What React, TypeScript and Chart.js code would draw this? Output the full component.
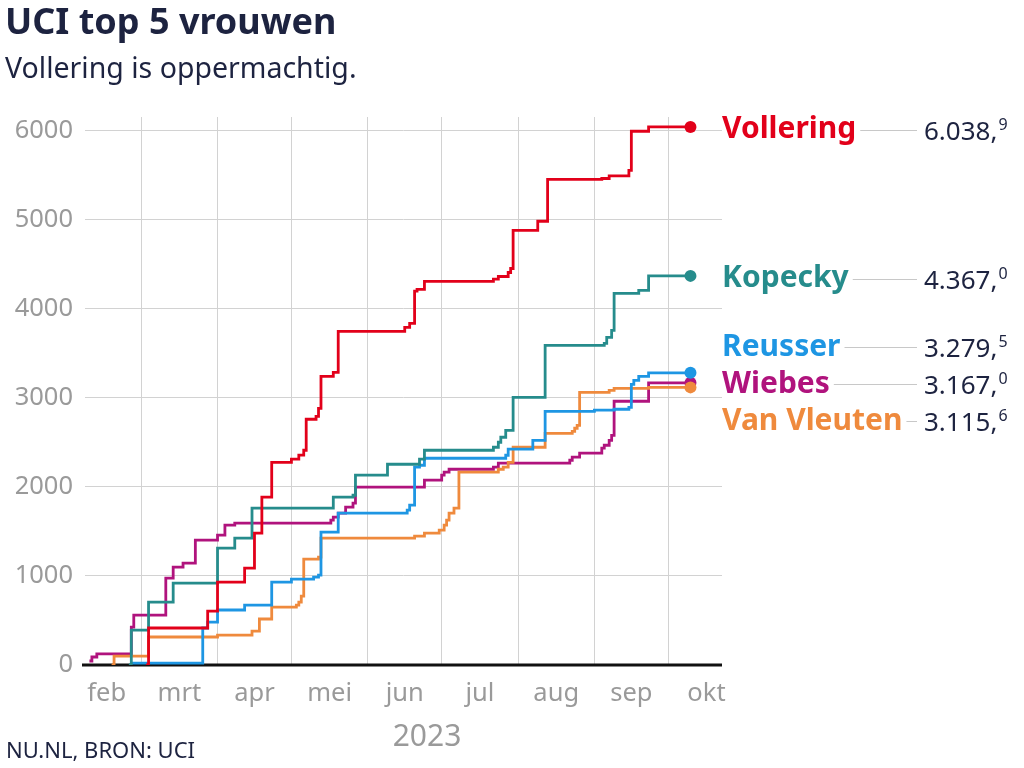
import React, { useEffect, useRef } from 'react';
import { Chart, registerables } from 'chart.js';

Chart.register(...registerables);

const FONT = '"Noto Sans", "Open Sans", sans-serif';
const NAVY = '#1d2340';
const GRAY = '#9a9a9a';
const GRID = '#d2d2d2';

const TITLE = 'UCI top 5 vrouwen';
const SUBTITLE = 'Vollering is oppermachtig.';
const SOURCE = 'NU.NL, BRON: UCI';
const YEAR_LABEL = '2023';

// x axis: month boundaries (gridlines) and month names (centred in the month)
const monthStarts = ['02-01', '03-01', '04-01', '05-01', '06-01', '07-01', '08-01', '09-01', '10-01', '11-01'];
const monthLabels = ['feb', 'mrt', 'apr', 'mei', 'jun', 'jul', 'aug', 'sep', 'okt'];
const xRange = ['02-06', '10-23'];
const yTicks = [0, 1000, 2000, 3000, 4000, 5000, 6000];
const yMax = 6150;

const riders = ['Vollering', 'Kopecky', 'Reusser', 'Wiebes', 'Van Vleuten'];
const riderColors = ['#e2001a', '#268c8c', '#1e96e3', '#b0137d', '#ef8a3d'];
const totals = [6038.9, 4367.0, 3279.5, 3167.0, 3115.6];
const endDate = '10-10';

const vollDates = ['03-03', '03-04', '03-28', '04-01', '04-12', '04-16', '04-19', '04-23', '05-01', '05-04', '05-06', '05-07', '05-11', '05-12', '05-13', '05-18', '05-20', '06-16', '06-18', '06-20', '06-21', '06-24', '07-22', '07-24', '07-28', '07-29', '07-30', '08-09', '08-13', '09-04', '09-07', '09-15', '09-16', '09-23'];
const vollPoints = [0, 415, 605, 930, 1087, 1480, 1883, 2275, 2310, 2355, 2410, 2758, 2790, 2880, 3240, 3285, 3745, 3790, 3835, 4195, 4215, 4305, 4330, 4360, 4405, 4450, 4877, 4980, 5450, 5460, 5490, 5550, 5990, 6038.9];

const kopDates = ['02-24', '02-25', '03-04', '03-14', '04-01', '04-08', '04-15', '05-18', '05-26', '05-27', '06-09', '06-22', '06-24', '07-22', '07-24', '07-25', '07-27', '07-30', '08-12', '09-05', '09-06', '09-08', '09-09', '09-19', '09-23'];
const kopPoints = [0, 392, 706, 919, 1311, 1424, 1760, 1883, 1905, 2130, 2253, 2310, 2410, 2444, 2500, 2556, 2634, 3004, 3587, 3610, 3677, 3756, 4170, 4204, 4367.0];

const reuDates = ['02-25', '03-26', '03-28', '04-01', '04-12', '04-23', '05-01', '05-10', '05-12', '05-13', '05-20', '06-17', '06-18', '06-20', '06-22', '06-24', '07-27', '07-28', '08-07', '08-12', '09-01', '09-09', '09-15', '09-16', '09-17', '09-19', '09-23'];
const reuPoints = [20, 415, 482, 617, 673, 930, 964, 987, 1009, 1491, 1704, 1738, 1794, 2220, 2242, 2320, 2354, 2422, 2522, 2847, 2860, 2870, 2892, 3150, 3195, 3240, 3279.5];

const wieDates = ['02-08', '02-09', '02-11', '02-25', '02-26', '03-11', '03-14', '03-18', '03-23', '04-01', '04-04', '04-08', '05-17', '05-18', '05-20', '05-23', '05-26', '05-27', '06-24', '07-01', '07-02', '07-04', '07-22', '07-24', '08-22', '08-23', '08-26', '09-04', '09-05', '09-07', '09-08', '09-09', '09-23'];
const wiePoints = [45, 90, 125, 426, 560, 975, 1099, 1143, 1401, 1457, 1570, 1592, 1625, 1659, 1704, 1771, 1816, 1996, 2074, 2130, 2164, 2197, 2220, 2265, 2298, 2332, 2377, 2433, 2466, 2522, 2578, 2960, 3167.0];

const vvDates = ['02-17', '02-18', '03-04', '04-01', '04-15', '04-18', '04-23', '05-03', '05-04', '05-05', '05-06', '05-12', '05-13', '06-20', '06-24', '06-30', '07-02', '07-03', '07-04', '07-06', '07-08', '07-24', '07-26', '07-28', '07-30', '08-12', '08-23', '08-24', '08-25', '08-26', '09-07', '09-09', '09-23'];
const vvPoints = [0, 100, 314, 336, 381, 516, 650, 673, 706, 774, 1188, 1211, 1424, 1446, 1480, 1513, 1570, 1625, 1704, 1760, 2164, 2197, 2220, 2275, 2444, 2600, 2623, 2657, 2690, 3060, 3083, 3105, 3115.6];

const seriesDates = [vollDates, kopDates, reuDates, wieDates, vvDates];
const seriesPoints = [vollPoints, kopPoints, reuPoints, wiePoints, vvPoints];
const drawOrder = [0, 1, 2, 4, 3];

const dayOf = (md: string) => {
  const [m, d] = md.split('-').map(Number);
  return (Date.UTC(2023, m - 1, d) - Date.UTC(2023, 0, 1)) / 86400000;
};

const midMap = new Map<number, string>();
monthLabels.forEach((lab, i) => {
  midMap.set((dayOf(monthStarts[i]) + dayOf(monthStarts[i + 1])) / 2, lab);
});

const fmtTotal = (v: number) => {
  const int = Math.floor(v);
  const dec = Math.round((v - int) * 10);
  const s = String(int).replace(/\B(?=(\d{3})+(?!\d))/g, '.');
  return [s + ',', String(dec)];
};

const textPlugin = {
  id: 'textPlugin',
  beforeDatasetsDraw(chart: any) {
    const { ctx, chartArea } = chart;
    ctx.save();
    ctx.strokeStyle = '#111111';
    ctx.lineWidth = 3;
    ctx.beginPath();
    ctx.moveTo(chartArea.left - 3, chartArea.bottom);
    ctx.lineTo(chartArea.right, chartArea.bottom);
    ctx.stroke();
    ctx.restore();
  },
  afterDraw(chart: any) {
    const { ctx, scales } = chart;
    ctx.save();
    ctx.textAlign = 'left';
    ctx.textBaseline = 'alphabetic';
    ctx.fillStyle = NAVY;
    ctx.font = `bold 36px ${FONT}`;
    ctx.fillText(TITLE, 5, 34);
    ctx.font = `28.5px ${FONT}`;
    ctx.fillText(SUBTITLE, 5, 78);
    ctx.font = `22px ${FONT}`;
    ctx.fillText(SOURCE, 6, 758);
    ctx.fillStyle = GRAY;
    ctx.font = `30px ${FONT}`;
    ctx.textAlign = 'center';
    ctx.fillText(YEAR_LABEL, 427, 746);

    // end labels with simple collision avoidance
    const items = riders.map((name, i) => ({
      name,
      color: riderColors[i],
      total: totals[i],
      y: scales.y.getPixelForValue(totals[i]) + 3,
    }));
    items.sort((a, b) => a.y - b.y);
    const gap = 37;
    for (let it = 0; it < 200; it++) {
      let moved = false;
      for (let i = 1; i < items.length; i++) {
        const d = items[i].y - items[i - 1].y;
        if (d < gap - 0.01) {
          const s = (gap - d) / 2;
          items[i].y += s;
          items[i - 1].y -= s;
          moved = true;
        }
      }
      if (!moved) break;
    }
    const lx = 722;
    const vx = 924;
    items.forEach((item) => {
      ctx.textAlign = 'left';
      ctx.textBaseline = 'middle';
      ctx.font = `bold 30px ${FONT}`;
      ctx.fillStyle = item.color;
      ctx.fillText(item.name, lx, item.y);
      const w = ctx.measureText(item.name).width;
      const x0 = lx + w + 4;
      const x1 = vx - 7;
      if (x1 > x0) {
        ctx.strokeStyle = '#c8c8c8';
        ctx.lineWidth = 1;
        ctx.beginPath();
        ctx.moveTo(x0, Math.round(item.y) + 0.5);
        ctx.lineTo(x1, Math.round(item.y) + 0.5);
        ctx.stroke();
      }
      const [main, dec] = fmtTotal(item.total);
      ctx.fillStyle = NAVY;
      ctx.font = `26px ${FONT}`;
      ctx.textBaseline = 'alphabetic';
      const base = item.y + 10;
      ctx.fillText(main, vx, base);
      const mw = ctx.measureText(main).width;
      ctx.font = `16px ${FONT}`;
      ctx.fillText(dec, vx + mw + 1, base - 10);
    });
    ctx.restore();
  },
};

export default function App() {
  const ref = useRef<HTMLCanvasElement>(null);
  useEffect(() => {
    document.body.style.margin = '0';
    const datasets = riders.map((name, i) => {
      const pts = seriesDates[i].map((d, k) => ({ x: dayOf(d), y: seriesPoints[i][k] }));
      pts.push({ x: dayOf(endDate), y: seriesPoints[i][seriesPoints[i].length - 1] });
      return {
        label: name,
        data: pts,
        borderColor: riderColors[i],
        backgroundColor: riderColors[i],
        borderWidth: 2.8,
        stepped: true as const,
        fill: false,
        order: drawOrder[i],
        pointRadius: (c: any) => (c.dataIndex === pts.length - 1 ? 6 : 0),
        pointHoverRadius: 0,
        pointBorderWidth: 0,
        pointBackgroundColor: riderColors[i],
      };
    });
    const chart = new Chart(ref.current as HTMLCanvasElement, {
      type: 'line',
      data: { datasets },
      plugins: [textPlugin],
      options: {
        animation: false,
        responsive: false,
        maintainAspectRatio: false,
        events: [],
        layout: { padding: { left: 0, right: 302, top: 117, bottom: 0 } },
        plugins: {
          legend: { display: false },
          tooltip: { enabled: false },
          title: { display: false },
        },
        scales: {
          x: {
            type: 'linear',
            min: dayOf(xRange[0]) + 0.2,
            max: dayOf(xRange[1]) - 0.2,
            afterFit: (s: any) => {
              s.height = 103;
            },
            afterBuildTicks: (s: any) => {
              const t: { value: number }[] = [];
              monthStarts.forEach((ms) => {
                const v = dayOf(ms);
                if (v >= s.min && v <= s.max) t.push({ value: v });
              });
              midMap.forEach((_, v) => t.push({ value: v }));
              t.sort((a, b) => a.value - b.value);
              s.ticks = t;
            },
            border: { display: false },
            grid: {
              drawTicks: false,
              lineWidth: 1,
              color: (c: any) => (c.tick && midMap.has(c.tick.value) ? 'rgba(0,0,0,0)' : GRID),
            },
            ticks: {
              autoSkip: false,
              maxRotation: 0,
              padding: 13,
              color: GRAY,
              font: { family: FONT, size: 25.5 },
              callback: (v: any) => midMap.get(Number(v)) || '',
            },
          },
          y: {
            min: 0,
            max: yMax,
            afterFit: (s: any) => {
              s.width = 85;
            },
            afterBuildTicks: (s: any) => {
              s.ticks = yTicks.map((v) => ({ value: v }));
            },
            border: { display: false },
            grid: {
              drawTicks: false,
              lineWidth: 1,
              color: (c: any) => (c.tick && c.tick.value === 0 ? 'rgba(0,0,0,0)' : GRID),
            },
            ticks: {
              padding: 12,
              color: GRAY,
              font: { family: FONT, size: 25.5 },
              callback: (v: any) => String(v),
            },
          },
        },
      },
    });
    return () => chart.destroy();
  }, []);
  return (
    <div style={{ width: 1024, height: 768 }}>
      <canvas ref={ref} width={1024} height={768} style={{ display: 'block' }} />
    </div>
  );
}
